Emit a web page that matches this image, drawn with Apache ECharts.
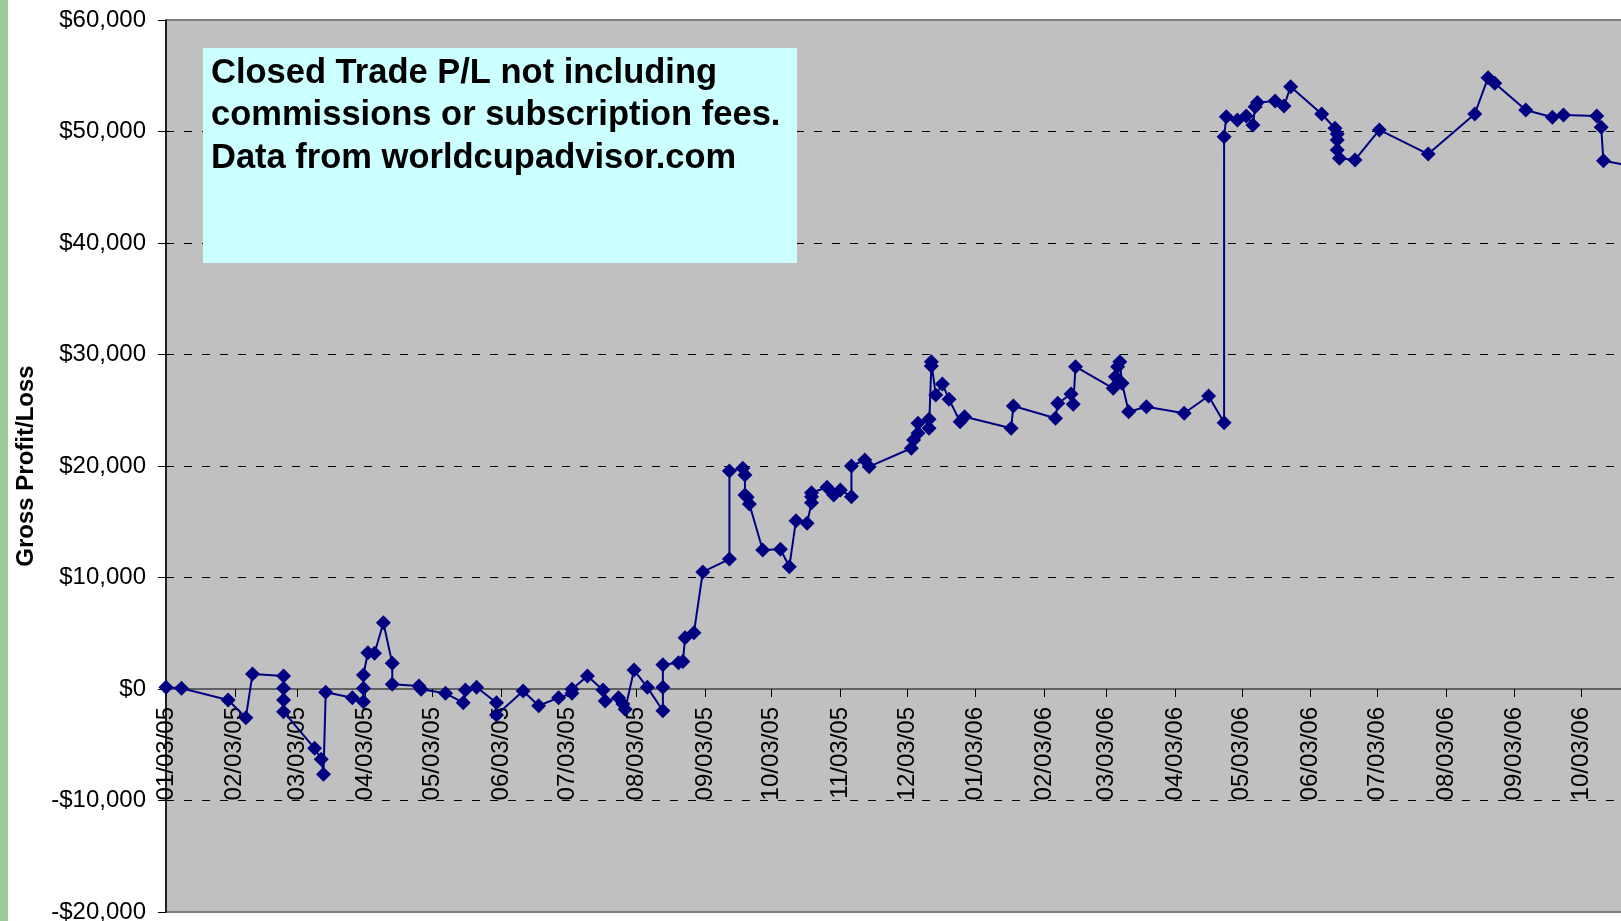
<!DOCTYPE html>
<html>
<head>
<meta charset="utf-8">
<script src="https://cdn.jsdelivr.net/npm/echarts@6/dist/echarts.min.js"></script>
<style>
  html, body { margin: 0; padding: 0; background: #fff; overflow: hidden; }
  #chart { width: 1700px; height: 921px; }
</style>
</head>
<body>
<div id="chart"></div>
<script>
  // closed trade dates and running P/L
  var tradeDates = [
    '2005-01-03', '2005-01-10', '2005-01-31', '2005-02-08', '2005-02-11', '2005-02-25', '2005-02-25', '2005-02-25', '2005-02-25',
    '2005-03-11', '2005-03-14', '2005-03-15', '2005-03-16', '2005-03-28', '2005-04-02', '2005-04-02', '2005-04-02',
    '2005-04-04', '2005-04-07', '2005-04-11', '2005-04-15', '2005-04-15', '2005-04-27', '2005-04-28',
    '2005-05-09', '2005-05-17', '2005-05-18', '2005-05-23', '2005-06-01', '2005-06-01', '2005-06-13', '2005-06-20', '2005-06-29',
    '2005-07-05', '2005-07-05', '2005-07-12', '2005-07-19', '2005-07-20', '2005-07-26', '2005-07-28', '2005-07-29',
    '2005-08-02', '2005-08-08', '2005-08-15', '2005-08-15', '2005-08-15', '2005-08-22', '2005-08-24', '2005-08-25', '2005-08-29',
    '2005-09-02', '2005-09-14', '2005-09-14', '2005-09-20', '2005-09-21', '2005-09-21', '2005-09-22', '2005-09-23', '2005-09-29',
    '2005-10-07', '2005-10-11', '2005-10-14', '2005-10-19', '2005-10-21', '2005-10-21', '2005-10-21', '2005-10-28', '2005-10-31',
    '2005-11-03', '2005-11-08', '2005-11-08', '2005-11-14', '2005-11-16',
    '2005-12-05', '2005-12-06', '2005-12-08', '2005-12-08', '2005-12-13', '2005-12-13', '2005-12-14', '2005-12-14',
    '2005-12-16', '2005-12-19', '2005-12-22', '2005-12-27', '2005-12-29',
    '2006-01-19', '2006-01-20', '2006-02-08', '2006-02-09', '2006-02-15', '2006-02-16', '2006-02-17',
    '2006-03-06', '2006-03-07', '2006-03-08', '2006-03-09', '2006-03-10', '2006-03-13', '2006-03-21',
    '2006-04-07', '2006-04-18', '2006-04-25', '2006-04-25', '2006-04-26',
    '2006-05-01', '2006-05-05', '2006-05-08', '2006-05-09', '2006-05-10', '2006-05-18', '2006-05-22', '2006-05-25',
    '2006-06-08', '2006-06-14', '2006-06-15', '2006-06-15', '2006-06-15', '2006-06-16', '2006-06-23',
    '2006-07-04', '2006-07-26', '2006-08-16', '2006-08-22', '2006-08-25',
    '2006-09-08', '2006-09-20', '2006-09-25', '2006-10-10', '2006-10-12', '2006-10-13', '2006-10-25'
  ];
  var plValues = [
    150, 60, -990, -2570, 1350, 1170, 60, -990, -2030,
    -5320, -6300, -7650, -300, -780, -1140, 60, 1260,
    3260, 3200, 5950, 2300, 420, 270, -30,
    -390, -1230, -90, 150, -1230, -2330, -180, -1500, -780,
    -390, -30, 1170, -90, -1080, -780, -1350, -1820,
    1700, 150, -1950, 150, 2180, 2360, 2460, 4590, 5050,
    10500, 11650, 19550, 19790, 19200, 17400, 17200, 16600, 12470,
    12530, 10970, 15100, 14860, 16710, 17250, 17600, 18090, 17400,
    17850, 17250, 20000, 20540, 19940,
    21590, 22330, 22930, 23830, 24190, 23380, 28970, 29350,
    26370, 27360, 25980, 23970, 24420,
    23380, 25380, 24280, 25620, 26460, 25530, 28910,
    26970, 28010, 28910, 29360, 27420, 24870, 25320,
    24730, 26280, 23880, 49540, 51330,
    51030, 51390, 50590, 52230, 52590, 52740, 52290, 54020,
    51570, 50290, 49780, 49240, 48340, 47600, 47450,
    50140, 47980, 51570, 54830, 54330,
    51930, 51280, 51480, 51390, 50380, 47380, 46930
  ];

  // x axis ticks: the 3rd of every month
  var tickDates = [
    '2005-01-03', '2005-02-03', '2005-03-03', '2005-04-03', '2005-05-03', '2005-06-03',
    '2005-07-03', '2005-08-03', '2005-09-03', '2005-10-03', '2005-11-03', '2005-12-03',
    '2006-01-03', '2006-02-03', '2006-03-03', '2006-04-03', '2006-05-03', '2006-06-03',
    '2006-07-03', '2006-08-03', '2006-09-03', '2006-10-03', '2006-11-03'
  ];
  var yMin = -20000, yMax = 60000, yStep = 10000;

  var noteText = 'Closed Trade P/L not including\ncommissions or subscription fees.\nData from worldcupadvisor.com';

  // dates become day numbers so a plain value axis can take custom tick spots
  var DAY = 86400000;
  function toDay(s) {
    var p = s.split('-');
    return Math.round(Date.UTC(+p[0], +p[1] - 1, +p[2]) / DAY);
  }
  function pad(n) { return n < 10 ? '0' + n : '' + n; }
  function fmtDate(v) {
    var d = new Date(Math.round(v) * DAY);
    return pad(d.getUTCMonth() + 1) + '/' + pad(d.getUTCDate()) + '/' + pad(d.getUTCFullYear() % 100);
  }
  function fmtMoney(v) {
    var s = Math.abs(v).toString().replace(/\B(?=(\d{3})+(?!\d))/g, ',');
    return (v < 0 ? '-$' : '$') + s;
  }

  var ticks = tickDates.map(toDay);
  var seriesData = tradeDates.map(function (d, i) { return [toDay(d), plValues[i]]; });

  var gridTop = 20, gridHeight = 892;
  // the date axis sits on the $0 line
  var zeroOffset = -gridHeight * (0 - yMin) / (yMax - yMin);

  var myChart = echarts.init(document.getElementById('chart'));
  var option = {
    animation: false,
    textStyle: { fontFamily: '"Liberation Sans", Arial, sans-serif' },
    grid: {
      left: 166,
      top: gridTop,
      width: 1484,
      height: gridHeight,
      containLabel: false,
      outerBoundsMode: 'none',
      show: true,
      backgroundColor: '#c0c0c0',
      borderColor: '#808080',
      borderWidth: 2
    },
    graphic: [
      { type: 'rect', shape: { x: 0, y: 0, width: 8, height: 921 }, style: { fill: '#9ccc9c' } },
      { type: 'rect', shape: { x: 203, y: 48, width: 594, height: 215 }, style: { fill: '#ccffff' }, z: 10 },
      {
        type: 'text', x: 211, y: 52, z: 11,
        style: {
          text: noteText,
          font: 'bold 34.5px "Liberation Sans", Arial, sans-serif',
          lineHeight: 42.5,
          fill: '#000'
        }
      }
    ],
    xAxis: {
      type: 'value',
      min: ticks[0],
      max: ticks[ticks.length - 1],
      position: 'bottom',
      offset: zeroOffset,
      axisLine: { onZero: false, lineStyle: { color: '#5f5f5f', width: 2 } },
      axisTick: { show: true, length: 8, customValues: ticks, lineStyle: { color: '#000', width: 1 } },
      axisLabel: {
        customValues: ticks,
        rotate: 90,
        margin: 18,
        fontSize: 24,
        color: '#000',
        formatter: function (v) { return fmtDate(v); }
      },
      splitLine: { show: false }
    },
    yAxis: {
      type: 'value',
      min: yMin,
      max: yMax,
      interval: yStep,
      name: 'Gross Profit/Loss',
      nameLocation: 'middle',
      nameRotate: 90,
      nameGap: 128,
      nameTextStyle: { fontSize: 24, fontWeight: 'bold', color: '#000' },
      axisLine: { show: true, lineStyle: { color: '#000', width: 1.5 } },
      axisTick: { show: true, length: 8, lineStyle: { color: '#000' } },
      axisLabel: { margin: 20, fontSize: 24, color: '#000', formatter: fmtMoney },
      splitLine: {
        show: true,
        showMinLine: false,
        showMaxLine: false,
        lineStyle: { color: '#000', type: [8, 10], width: 1 }
      }
    },
    series: [{
      name: 'P/L',
      type: 'line',
      data: seriesData,
      symbol: 'diamond',
      symbolSize: 15,
      showAllSymbol: true,
      lineStyle: { color: '#000080', width: 2 },
      itemStyle: { color: '#000080' },
      z: 5
    }]
  };
  myChart.setOption(option);
</script>
</body>
</html>
